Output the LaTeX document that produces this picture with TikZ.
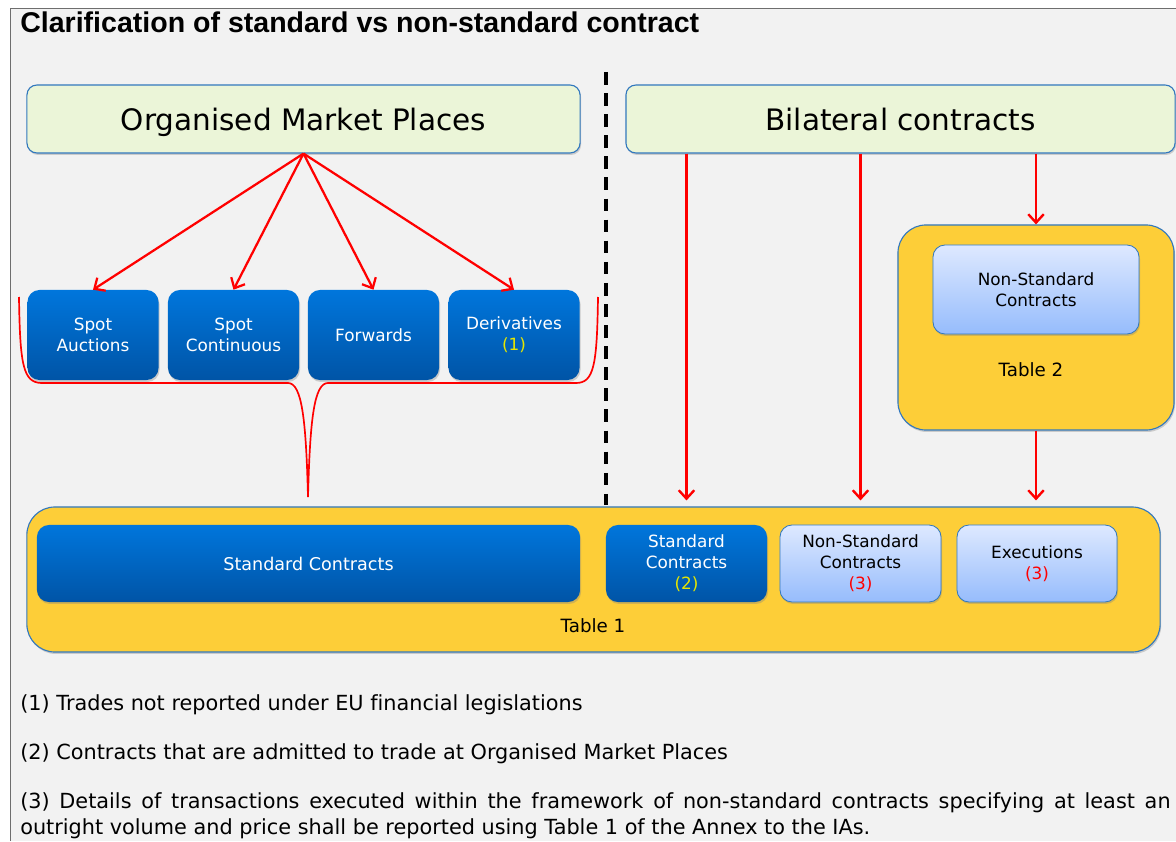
\documentclass[tikz,border=0pt]{standalone}
\usepackage{fontspec}
\setmainfont{DejaVu Sans}[Ligatures=NoCommon]
\newfontfamily\titlefont{Liberation Sans}
\usetikzlibrary{arrows.meta,shadows,calc}
\definecolor{bgray}{RGB}{242,242,242}
\definecolor{framegray}{RGB}{110,110,110}
\definecolor{hdfill}{RGB}{235,245,216}
\definecolor{edgeblue}{RGB}{50,120,190}
\definecolor{bluetop}{RGB}{0,118,220}
\definecolor{bluebot}{RGB}{0,84,166}
\definecolor{paletop}{RGB}{222,233,255}
\definecolor{palebot}{RGB}{150,188,252}
\definecolor{tabyellow}{RGB}{253,206,56}
\definecolor{noteyel}{RGB}{230,230,0}
\definecolor{arrred}{RGB}{255,0,0}

\begin{document}
\begin{tikzpicture}[x=0.025cm,y=-0.025cm,
  shade/.style={drop shadow={opacity=0.35,shadow xshift=0.7pt,shadow yshift=-1.4pt}},
  hdr/.style={draw=edgeblue,fill=hdfill,rounded corners=0.25cm,line width=0.8pt,minimum height=1.7cm,text depth=0pt,font=\fontsize{21}{25}\selectfont,shade},
  dark/.style={rounded corners=0.3cm,top color=bluetop,bottom color=bluebot,text=white,align=center,inner sep=0pt,font=\fontsize{12}{15}\selectfont,shade},
  pale/.style={draw=edgeblue,line width=0.6pt,rounded corners=0.3cm,top color=paletop,bottom color=palebot,align=center,inner sep=0pt,font=\fontsize{12}{15}\selectfont,shade},
  tbl/.style={draw=edgeblue,fill=tabyellow,rounded corners=0.7cm,line width=0.8pt,shade},
  lbl/.style={font=\fontsize{13}{16}\selectfont},
  note/.style={anchor=west,inner sep=0pt,font=\fontsize{14.8}{18.5}\selectfont},
  redarr/.style={draw=arrred,-{Straight Barb[length=6pt,width=11pt]},line width=1.6pt},
  brace/.style={draw=arrred,line width=1.2pt}]

  % page and frame
  \useasboundingbox (0,0) rectangle (1176,841);
  \fill[white] (0,0) rectangle (1176,841);
  \fill[bgray] (10,8) rectangle (1176,841);
  \draw[framegray,line width=0.7pt] (10,841) -- (10,8) -- (1176,8);
  \node[anchor=base west,inner sep=0pt,font=\titlefont\bfseries\fontsize{20.3}{24}\selectfont] (title) at (20,33) {Clarification of standard vs non-standard contract};

  % divider
  \coordinate (divtop) at (606,72);
  \coordinate (divbot) at (606,505);
  \draw[black,line width=2.4pt,dash pattern=on 9pt off 6pt] (divtop) -- (divbot);

  % headers
  \node[hdr,minimum width=13.825cm] (omp) at (303.5,119) {Organised Market Places};
  \node[hdr,minimum width=13.725cm] (bil) at (900.5,119) {Bilateral contracts};

  % market place boxes
  \node[dark,minimum width=3.275cm,minimum height=2.25cm] (spa) at (93,335) {Spot\\Auctions};
  \node[dark,minimum width=3.275cm,minimum height=2.25cm] (spc) at (233.5,335) {Spot\\Continuous};
  \node[dark,minimum width=3.275cm,minimum height=2.25cm] (fwd) at (373.5,335) {Forwards};
  \node[dark,minimum width=3.275cm,minimum height=2.25cm] (der) at (514,335) {Derivatives\\{\color{noteyel}(1)}};

  % table 2
  \node[tbl,minimum width=6.9cm,minimum height=5.125cm] (tab2) at (1036,327.5) {};
  \node[pale,minimum width=5.15cm,minimum height=2.225cm] (nsc2) at (1036,289.5) {Non-Standard\\Contracts};
  \node[lbl] (tab2lbl) at (1031,370) {Table 2};

  % table 1
  \node[tbl,minimum width=28.325cm,minimum height=3.625cm] (tab1) at (593.5,579.5) {};
  \node[dark,minimum width=13.575cm,minimum height=1.925cm,font=\fontsize{12.5}{15}\selectfont] (stdbig) at (308.5,563.5) {Standard Contracts};
  \node[dark,minimum width=4.025cm,minimum height=1.925cm] (std2) at (686.5,563.5) {Standard\\Contracts\\{\color{noteyel}(2)}};
  \node[pale,minimum width=4.025cm,minimum height=1.925cm] (nsc1) at (860.5,563.5) {Non-Standard\\Contracts\\{\color{arrred}(3)}};
  \node[pale,minimum width=4cm,minimum height=1.925cm] (exe) at (1037,563.5) {Executions\\{\color{arrred}(3)}};
  \node[lbl] (tab1lbl) at (593,626) {Table 1};

  % arrows from organised market places
  \draw[redarr] (omp.south) -- (spa.north);
  \draw[redarr] (omp.south) -- (spc.north);
  \draw[redarr] (omp.south) -- (fwd.north);
  \draw[redarr] (omp.south) -- (der.north);

  % arrows from bilateral contracts
  \draw[redarr,line width=1.7pt,shorten >=0.15cm] (bil.south -| std2.north) -- (tab1.north -| std2.north);
  \draw[redarr,line width=1.7pt,shorten >=0.15cm] (bil.south -| nsc1.north) -- (tab1.north -| nsc1.north);
  \draw[redarr,line width=1.7pt] (bil.south -| tab2.north) -- (tab2.north);
  \draw[redarr,line width=1.7pt,shorten >=0.15cm] (tab2.south) -- (tab1.north -| tab2.south);

  % brace under the market places
  \coordinate (bracetip) at (308,497);
  \draw[brace] (19,297) .. controls (20,365) and (23,383) .. (42,383) -- (288,383)
    .. controls (302,383) and (306,420) .. (bracetip)
    .. controls (310,420) and (314,383) .. (328,383) -- (576,383)
    .. controls (594,383) and (597,365) .. (598,297);

  % notes
  \node[note] (n1) at (20,705) {(1) Trades not reported under EU financial legislations};
  \node[note] (n2) at (20,754) {(2) Contracts that are admitted to trade at Organised Market Places};
  \node[note,anchor=north west,text width=28.75cm,align=justify] (n3) at (20,792) {(3) Details of transactions executed within the framework of non-standard contracts specifying at least an\linebreak outright volume and price shall be reported using Table 1 of the Annex to the IAs.};
\end{tikzpicture}
\end{document}
